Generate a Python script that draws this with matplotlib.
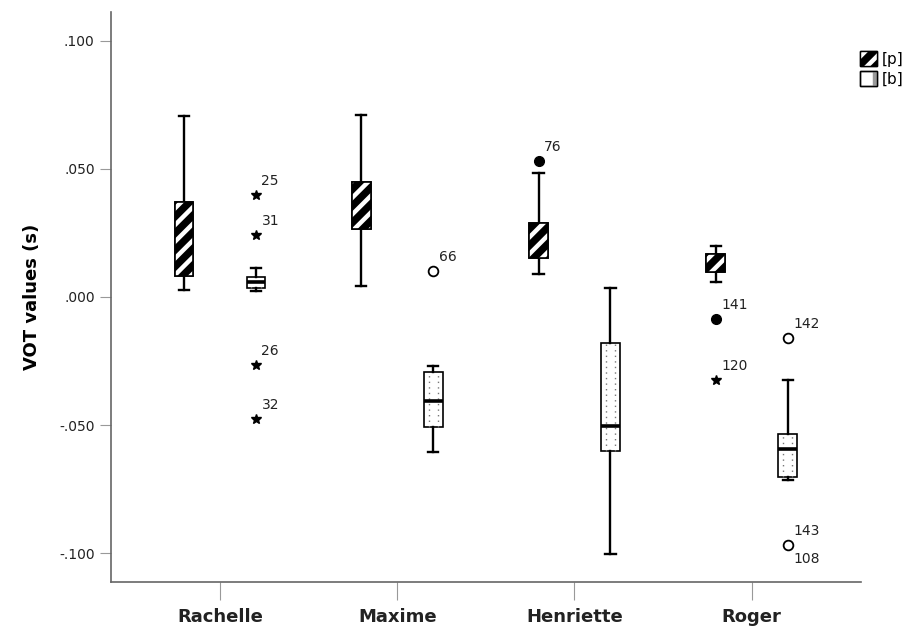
import numpy as np
import matplotlib; matplotlib.use("Agg")
import matplotlib.pyplot as plt
from matplotlib.patches import Patch, PathPatch
from matplotlib.legend_handler import HandlerTuple
from matplotlib.ticker import FuncFormatter

plt.rcParams.update({"font.family": ["DejaVu Sans"], "hatch.linewidth": 3.2})

speakers = ["Rachelle", "Maxime", "Henriette", "Roger"]
# [p] five-number boxes: whisker low, Q1, median, Q3, whisker high
p_lo  = [0.0027, 0.0043, 0.0089, 0.0059]
p_q1  = [0.0082, 0.0265, 0.0152, 0.0097]
p_med = [0.0203, 0.0320, 0.0220, 0.0130]
p_q3  = [0.0371, 0.0449, 0.0290, 0.0168]
p_hi  = [0.0707, 0.0711, 0.0484, 0.0199]
# [b]
b_lo  = [0.0023, -0.0605, -0.1004, -0.0715]
b_q1  = [0.0035, -0.0508, -0.0600, -0.0703]
b_med = [0.0059, -0.0406, -0.0505, -0.0594]
b_q3  = [0.0078, -0.0293, -0.0180, -0.0535]
b_hi  = [0.0113, -0.0270,  0.0035, -0.0324]
# outliers: speaker index, group, value, case label(s), kind
out_spk   = [0, 0, 0, 0, 1, 2, 3, 3, 3, 3]
out_grp   = ["b", "b", "b", "b", "b", "p", "p", "p", "b", "b"]
out_val   = [0.0398, 0.0242, -0.0266, -0.0477, 0.0102, 0.0531, -0.0086, -0.0324, -0.0160, -0.0969]
out_lab   = ["25", "31", "26", "32", "66", "76", "141", "120", "142", "143\n108"]
out_kind  = ["star", "star", "star", "star", "open", "filled", "filled", "star", "open", "open"]

OFF, W = 0.203, 0.105
fig = plt.figure(figsize=(9.1, 6.31), dpi=100)
ax = fig.add_axes([110.7 / 910, 49 / 631, 750.3 / 910, 570 / 631])

def stats(lo, q1, med, q3, hi):
    return [dict(whislo=a, q1=b, med=c, q3=d, whishi=e, fliers=[]) for a, b, c, d, e in zip(lo, q1, med, q3, hi)]

x = np.arange(len(speakers))
common = dict(widths=W, capwidths=W * 0.55, patch_artist=True, showfliers=False,
              whiskerprops=dict(color="black", lw=1.7), capprops=dict(color="black", lw=1.7),
              medianprops=dict(color="black", lw=2.6))
bp = ax.bxp(stats(p_lo, p_q1, p_med, p_q3, p_hi), positions=x - OFF,
            boxprops=dict(facecolor="black", edgecolor="black", lw=1.2), **common)
bb = ax.bxp(stats(b_lo, b_q1, b_med, b_q3, b_hi), positions=x + OFF,
            boxprops=dict(facecolor="white", edgecolor="black", lw=1.2), **common)

for box in bp["boxes"]:
    ax.add_patch(PathPatch(box.get_path(), facecolor="none", edgecolor="white", hatch="//", lw=0, zorder=2.1))
    ax.add_patch(PathPatch(box.get_path(), facecolor="none", edgecolor="black", lw=1.2, zorder=2.2))
for xi, q1, q3 in zip(x + OFF, b_q1, b_q3):
    for dx in (-W / 4, W / 4):
        ax.plot([xi + dx, xi + dx], [q1, q3], color="#777777", lw=1.0, ls=(0, (1, 3)), zorder=2.1)
for m in bb["medians"]:
    m.set_zorder(3)

for s, g, v, lab, k in zip(out_spk, out_grp, out_val, out_lab, out_kind):
    xi = s + (OFF if g == "b" else -OFF)
    if k == "star":
        ax.plot(xi, v, marker="*", ms=7, color="black", mec="black", ls="none")
    elif k == "open":
        ax.plot(xi, v, marker="o", ms=7, mfc="white", mec="black", mew=1.3, ls="none")
    else:
        ax.plot(xi, v, marker="o", ms=7, color="black", ls="none")
    parts = lab.split("\n")
    ax.annotate(parts[0], (xi, v), xytext=(4, 10), textcoords="offset points", ha="left", va="center",
                fontsize=10, color="#222222")
    if len(parts) > 1:
        ax.annotate(parts[1], (xi, v), xytext=(4, -10), textcoords="offset points", ha="left", va="center",
                    fontsize=10, color="#222222")

ax.set_xlim(-0.616, 3.616)
ax.set_ylim(-0.1113, 0.1113)
ax.set_xticks(x)
ax.set_xticklabels(speakers, fontsize=13, fontweight="bold", color="#222222")
ax.set_yticks([0.1, 0.05, 0.0, -0.05, -0.1])
ax.yaxis.set_major_formatter(FuncFormatter(lambda v, _: f"{v:.3f}".replace("0.", ".")))
ax.tick_params(axis="y", length=8, color="#999999", labelsize=10, labelcolor="#222222", pad=3.5)
ax.tick_params(axis="x", length=13, color="#999999", pad=6)
ax.set_ylabel("VOT values (s)", fontsize=13, fontweight="bold", labelpad=13)
for sp in ("top", "right"):
    ax.spines[sp].set_visible(False)
for sp in ("left", "bottom"):
    ax.spines[sp].set_color("#666666")
    ax.spines[sp].set_linewidth(1.2)

hp = (Patch(facecolor="black", edgecolor="black"),
      Patch(facecolor="none", edgecolor="white", hatch="//", lw=0),
      Patch(facecolor="none", edgecolor="black", lw=1.0))
with plt.rc_context({"hatch.linewidth": 0.7}):
    hb = (Patch(facecolor="white", edgecolor="black", lw=1.0),
          Patch(facecolor="none", edgecolor="#999999", hatch="|", lw=0),
          Patch(facecolor="none", edgecolor="black", lw=1.0))
fig.legend([hp, hb], ["[p]", "[b]"], handler_map={tuple: HandlerTuple(ndivide=1, pad=0)},
           loc="upper left", bbox_to_anchor=(860 / 910, 1 - 51 / 631), frameon=False,
           handlelength=1.1, handleheight=1.1, handletextpad=0.3, labelspacing=0.3,
           borderaxespad=0, borderpad=0, fontsize=11)

fig.savefig("out.png", dpi=100)
